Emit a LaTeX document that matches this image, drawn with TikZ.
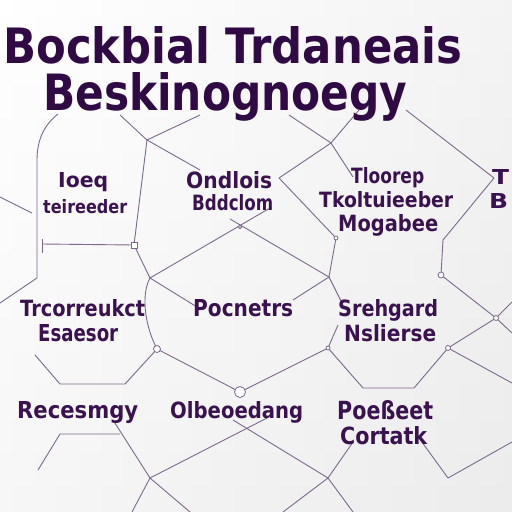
\documentclass[tikz,border=0pt]{standalone}
\usepackage{fontspec}
\setmainfont{DejaVu Sans}
\newfontfamily\titlefont{DejaVu Sans}
\usepackage{graphicx}
\usetikzlibrary{calc}
\definecolor{ink}{RGB}{58,18,80}
\definecolor{titleink}{RGB}{48,10,68}
\definecolor{wire}{RGB}{125,105,140}
\newcommand{\mylbl}[6]{\node[anchor=base west, inner sep=0pt, text=ink, font=\bfseries] (#1) at (#2,#3) {\resizebox{#4pt}{#5pt}{#6}};}
\begin{document}
\begin{tikzpicture}[x=1pt,y=-1pt,
  wirestyle/.style={draw=wire, line width=0.9pt, line join=round},
  dotmark/.style={draw=wire, fill=white, line width=0.8pt}]
\useasboundingbox (0,0) rectangle (512,512);
\shade[left color=white, right color=black!9] (0,0) rectangle (512,512);
\shade[top color=white, bottom color=black!6, opacity=0.5] (0,0) rectangle (512,512);

% junction coordinates
\coordinate (a1) at (58,114); \coordinate (a2) at (37,160); \coordinate (a3) at (37,278);
\coordinate (a4) at (0,303); \coordinate (a5) at (0,197); \coordinate (a6) at (32,213);
\coordinate (b1) at (42,244); \coordinate (b2) at (134,245); \coordinate (b3) at (147,140);
\coordinate (b4) at (120,115); \coordinate (b5) at (200,170); \coordinate (b6) at (200,115);
\coordinate (c1) at (150,278); \coordinate (c2) at (270,208); \coordinate (c3) at (230,219);
\coordinate (c4) at (329,277); \coordinate (c5) at (197,307); \coordinate (c6) at (157,349);
\coordinate (c7) at (240,392); \coordinate (c8) at (125,384); \coordinate (c9) at (60,384);
\coordinate (c10) at (35,355);
\coordinate (d1) at (38,470); \coordinate (d2) at (60,434); \coordinate (d3) at (120,434);
\coordinate (d4) at (113,420); \coordinate (d5) at (150,478); \coordinate (d6) at (190,512);
\coordinate (d7) at (267,418); \coordinate (d8) at (132,512);
\coordinate (e1) at (233,420); \coordinate (e2) at (328,478); \coordinate (e3) at (353,512);
\coordinate (e4) at (283,512); \coordinate (e5) at (353,442);
\coordinate (f1) at (328,348); \coordinate (f2) at (363,388); \coordinate (f3) at (414,388);
\coordinate (f4) at (448,348); \coordinate (f5) at (338,325); \coordinate (f6) at (343,305);
\coordinate (f7) at (293,300);
\coordinate (g1) at (289,115); \coordinate (g2) at (331,143); \coordinate (g3) at (359,110);
\coordinate (g4) at (353,177); \coordinate (g5) at (279,178); \coordinate (g6) at (336,238);
\coordinate (h1) at (406,110); \coordinate (h2) at (494,178); \coordinate (h3) at (443,240);
\coordinate (h4) at (441,275); \coordinate (h5) at (496,318); \coordinate (h6) at (512,302);
\coordinate (h7) at (512,333); \coordinate (h9) at (512,383);
\coordinate (i1) at (419,438); \coordinate (i2) at (448,478); \coordinate (i3) at (512,442);
\coordinate (m1) at (240,227);

% connectors
\draw[wirestyle] (a1) .. controls (44,125) and (37,140) .. (a2) -- (a3) -- (a4);
\draw[wirestyle] (a5) -- (a6);
\draw[wirestyle] (b1) -- (b2);
\draw[wirestyle] (b3) -- (b2) -- (c1);
\draw[wirestyle] (b4) -- (b3) -- (b5);
\draw[wirestyle] (b3) -- (b6);
\draw[wirestyle] (c1) -- (c2);
\draw[wirestyle] (c3) -- (c4);
\draw[wirestyle] (c1) -- (c5);
\draw[wirestyle] (c1) .. controls (142,292) and (143,322) .. (c6);
\draw[wirestyle] (c6) -- (c7);
\draw[wirestyle] (c6) -- (c8) -- (c9) -- (c10);
\draw[wirestyle] (d1) -- (d2) -- (d3);
\draw[wirestyle] (d4) -- (d5) -- (d6);
\draw[wirestyle] (d8) -- (d5) -- (d7);
\draw[wirestyle] (e1) -- (e2) -- (e3);
\draw[wirestyle] (e4) -- (e2) -- (e5);
\draw[wirestyle] (c7) -- (f1);
\draw[wirestyle] (f5) -- (f1) -- (f2) -- (f3) -- (f4);
\draw[wirestyle] (c4) -- (f6);
\draw[wirestyle] (c4) -- (f7);
\draw[wirestyle] (g1) -- (g2) -- (g3);
\draw[wirestyle] (g2) -- (g4);
\draw[wirestyle] (g2) -- (g5) -- (g6) -- (c4);
\draw[wirestyle] (h1) -- (h2) -- (h3) -- (h4) -- (h5) -- (h7);
\draw[wirestyle] (f4) -- (h5) -- (h6);
\draw[wirestyle] (f4) -- (h9);
\draw[wirestyle] (i1) -- (i2) -- (i3);
\draw[wirestyle] (42,239) -- (42,253);

% markers
\draw[dotmark] (c6) circle (3.5);
\draw[dotmark] (c7) circle (5.5);
\draw[dotmark] (h4) circle (3);
\draw[dotmark] (f1) circle (2);
\draw[dotmark] (f4) circle (2.5);
\draw[dotmark] (h5) circle (2.5);
\draw[dotmark] (g6) circle (2);
\draw[dotmark] (m1) circle (1.8);
\draw[dotmark] ($(b2)+(-3,-3)$) rectangle ($(b2)+(3,3)$);

% title
\node[anchor=base west, inner sep=0pt, text=titleink, font=\titlefont\bfseries] (t1) at (3,63) {\resizebox{459pt}{37pt}{Bockbial Trdaneais}};
\node[anchor=base west, inner sep=0pt, text=titleink, font=\titlefont\bfseries] (t2) at (43,110) {\resizebox{364pt}{38pt}{Beskinognoegy}};

% labels
\mylbl{l1}{58}{187}{50}{15}{Ioeq}
\mylbl{l2}{43}{213}{84}{14}{teireeder}
\mylbl{l3}{186}{188}{86}{17}{Ondlois}
\mylbl{l4}{192}{210}{81}{16}{Bddclom}
\mylbl{l5}{351}{183}{73}{16}{Tloorep}
\mylbl{l6}{319}{207}{134}{16}{Tkoltuieeber}
\mylbl{l7}{338}{231}{100}{17}{Mogabee}
\mylbl{l8}{492}{184}{17}{15}{T}
\mylbl{l9}{489}{208}{19}{15}{B}
\mylbl{l10}{20}{316}{125}{17}{Trcorreukct}
\mylbl{l11}{38}{341}{80}{17}{Esaesor}
\mylbl{l12}{193}{316}{100}{17}{Pocnetrs}
\mylbl{l13}{338}{316}{100}{17}{Srehgard}
\mylbl{l14}{344}{341}{92}{17}{Nslierse}
\mylbl{l15}{17}{418}{121}{17}{Recesmgy}
\mylbl{l16}{170}{418}{133}{17}{Olbeoedang}
\mylbl{l17}{337}{419}{96}{19}{Poeßeet}
\mylbl{l18}{340}{444}{87}{18}{Cortatk}
\end{tikzpicture}
\end{document}
